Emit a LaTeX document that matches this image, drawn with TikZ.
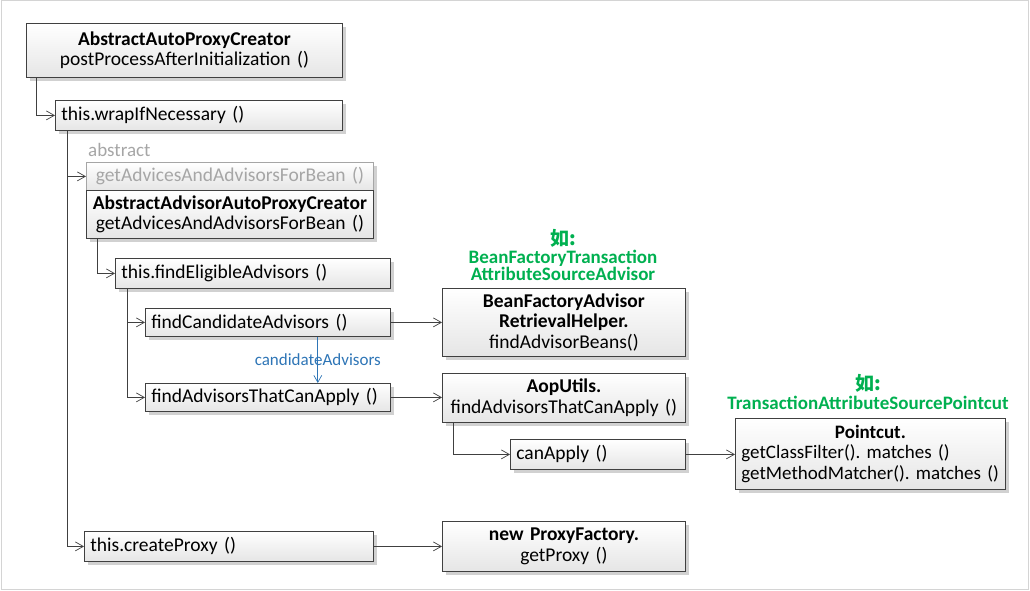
\documentclass[tikz,border=0pt]{standalone}
\usepackage{fontspec}
\setmainfont{Carlito}
\newfontfamily\cjk{Noto Sans CJK SC}
\usetikzlibrary{arrows.meta,shadows,calc}
\definecolor{linec}{HTML}{404040}
\definecolor{framec}{HTML}{D4D4D4}
\definecolor{greenc}{HTML}{00B050}
\definecolor{bluec}{HTML}{2E75B6}
\definecolor{grayt}{HTML}{A6A6A6}
\frenchspacing
\begin{document}
\begin{tikzpicture}[x=1pt,y=-1pt,
  box/.style={draw=linec, line width=0.8pt, top color=white, bottom color=black!10,
    drop shadow={shadow xshift=4pt, shadow yshift=-4pt, fill=black!18, opacity=1},
    font=\fontsize{19.5}{20.5}\selectfont, inner xsep=6pt, inner ysep=2pt, anchor=north west},
  cbox/.style={box, align=center},
  lbox/.style={box, align=left},
  conn/.style={draw=linec, line width=0.8pt, -{Straight Barb[length=8pt,width=9pt,line width=0.7pt]}},
  note/.style={text=greenc, font=\fontsize{19}{17.5}\selectfont\bfseries, align=center}
]
\useasboundingbox (0,0) rectangle (1030,591);
\draw[framec, line width=1pt] (1,1) rectangle (1028.5,589.5);

\node[cbox, text width=304pt, minimum height=54pt] (b1) at (26,23)
  {\textbf{AbstractAutoProxyCreator}\\postProcessAfterInitialization ()};
\node[lbox, text width=275pt, minimum height=30pt] (b2) at (55,100) {this.wrapIfNecessary ()};
\node[anchor=west, text=grayt, font=\fontsize{19}{19}\selectfont, inner sep=0pt] (abs) at (88,150) {abstract};
\node[cbox, draw=grayt, text=grayt, text width=275pt, minimum height=28pt] (b3) at (86,162)
  {getAdvicesAndAdvisorsForBean ()};
\node[cbox, text width=275pt, minimum height=48pt] (b4) at (86,190)
  {\textbf{AbstractAdvisorAutoProxyCreator}\\getAdvicesAndAdvisorsForBean ()};
\node[lbox, text width=263pt, minimum height=30pt] (b5) at (115,258) {this.findEligibleAdvisors ()};
\node[lbox, text width=233pt, minimum height=28pt] (b6) at (145,308) {findCandidateAdvisors ()};
\node[lbox, text width=233pt, minimum height=28pt] (b7) at (145,383) {findAdvisorsThatCanApply ()};
\node[cbox, text width=231pt, minimum height=68pt] (b8) at (442,288)
  {\textbf{BeanFactoryAdvisor}\\\textbf{RetrievalHelper.}\\findAdvisorBeans()};
\node[cbox, text width=231pt, minimum height=49pt] (b9) at (442,373)
  {\textbf{AopUtils.}\\findAdvisorsThatCanApply ()};
\node[lbox, text width=163pt, minimum height=30pt] (b10) at (510,439) {canApply ()};
\node[cbox, text width=258pt, minimum height=71pt, font=\fontsize{19}{20.5}\selectfont] (b11) at (735,418)
  {\textbf{Pointcut.}\\\makebox[258pt][l]{getClassFilter(). matches ()}\\\makebox[258pt][l]{getMethodMatcher(). matches ()}};
\node[lbox, text width=277pt, minimum height=30pt] (b12) at (84,531) {this.createProxy ()};
\node[cbox, text width=231pt, minimum height=50pt] (b13) at (442,521)
  {\textbf{new ProxyFactory.}\\getProxy ()};

\node[note] (n1) at (563,255) {{\cjk 如:}\\BeanFactoryTransaction\\AttributeSourceAdvisor};
\node[note, font=\fontsize{19}{19}\selectfont\bfseries] (n2) at (868,392) {{\cjk 如:}\\TransactionAttributeSourcePointcut};

% connectors
\draw[conn] ([xshift=10pt]b1.south west) |- (b2.west);
\draw[conn] ([xshift=12pt]b2.south west) |- (b3.west);
\draw[conn] ([xshift=12pt]b2.south west) |- (b12.west);
\draw[conn] ([xshift=11pt]b4.south west) |- (b5.west);
\draw[conn] ([xshift=12pt]b5.south west) |- (b6.west);
\draw[conn] ([xshift=12pt]b5.south west) |- (b7.west);
\draw[conn] (b6.east) -- (b6.east -| b8.west);
\draw[conn] (b7.east) -- (b7.east -| b9.west);
\draw[conn] ([xshift=11pt]b9.south west) |- (b10.west);
\draw[conn] (b10.east) -- (b10.east -| b11.west);
\draw[conn] (b12.east) -- (b12.east -| b13.west);
\coordinate (cs) at ([xshift=-73pt]b6.south east);
\draw[draw=bluec, line width=0.8pt, -{Straight Barb[length=7pt,width=8pt,line width=0.7pt]}]
  (cs) -- (cs |- b7.north) node[pos=0.5, text=bluec, font=\fontsize{17}{16}\selectfont, inner sep=0pt] (lbl) {candidateAdvisors};
\end{tikzpicture}
\end{document}
